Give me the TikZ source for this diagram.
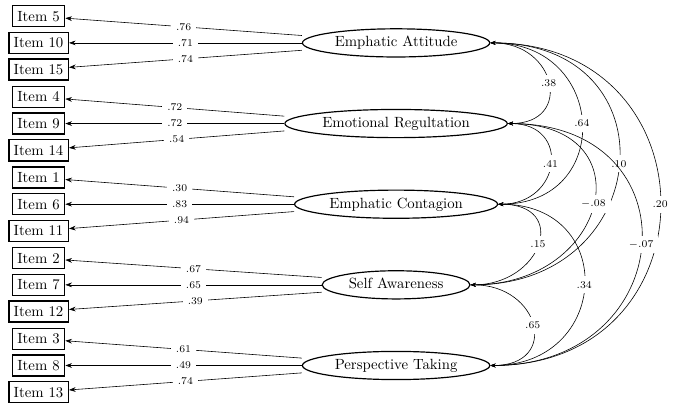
\documentclass[tikz,border=0pt]{standalone}
\usepackage{tikz}
\usetikzlibrary{positioning, arrows.meta, calc}
\usetikzlibrary{shapes.geometric}

\begin{document}
\begin{tikzpicture}[
            node distance=1.22cm,
            >={Stealth[length=4.5pt, width=3.2pt]},
            item/.style = {rectangle, draw=black, line width=1pt, minimum height=0.5cm},
            latent/.style = {ellipse, draw=black, thick, minimum height=0.67cm, inner ysep=0pt, text height=1.6ex, text depth=.4ex},
            load/.style = {->, thin},
            cov/.style = {<->, thin, >={Stealth[length=3.5pt, width=2.6pt]}},
            lab/.style = {font=\scriptsize, fill=white, midway}
        ]

            \useasboundingbox (0,0) rectangle (16.03,-9.775);

            % --- 1. Latent factors ---
            \node [latent] (ea) at (9.42, -1.02) {Emphatic Attitude};
            \node [latent, below=of ea] (er) {Emotional Regultation};
            \node [latent, below=of er] (ec) {Emphatic Contagion};
            \node [latent, below=of ec] (sa) {Self Awareness};
            \node [latent, below=of sa] (pt) {Perspective Taking};

            % --- 2. Items (one column on the left) ---
            \coordinate (col) at (0.916, 0);

            \node [item] (i10) at (ea -| col) {Item 10};
            \node [item, above=0.1cm of i10] (i5) {Item 5};
            \node [item, below=0.1cm of i10] (i15) {Item 15};

            \node [item] (i9) at (er -| col) {Item 9};
            \node [item, above=0.1cm of i9] (i4) {Item 4};
            \node [item, below=0.1cm of i9] (i14) {Item 14};

            \node [item] (i6) at (ec -| col) {Item 6};
            \node [item, above=0.1cm of i6] (i1) {Item 1};
            \node [item, below=0.1cm of i6] (i11) {Item 11};

            \node [item] (i7) at (sa -| col) {Item 7};
            \node [item, above=0.1cm of i7] (i2) {Item 2};
            \node [item, below=0.1cm of i7] (i12) {Item 12};

            \node [item] (i8) at (pt -| col) {Item 8};
            \node [item, above=0.1cm of i8] (i3) {Item 3};
            \node [item, below=0.1cm of i8] (i13) {Item 13};

            % --- 3. Loadings ---
            \draw [load] ([yshift=5pt]ea.west) -- node[lab] {.76} (i5);
            \draw [load] (ea.west) -- node[lab] {.71} (i10);
            \draw [load] ([yshift=-5pt]ea.west) -- node[lab] {.74} (i15);

            \draw [load] ([yshift=5pt]er.west) -- node[lab] {.72} (i4);
            \draw [load] (er.west) -- node[lab] {.72} (i9);
            \draw [load] ([yshift=-5pt]er.west) -- node[lab] {.54} (i14);

            \draw [load] ([yshift=5pt]ec.west) -- node[lab] {.30} (i1);
            \draw [load] (ec.west) -- node[lab] {.83} (i6);
            \draw [load] ([yshift=-5pt]ec.west) -- node[lab] {.94} (i11);

            \draw [load] ([yshift=5pt]sa.west) -- node[lab] {.67} (i2);
            \draw [load] (sa.west) -- node[lab] {.65} (i7);
            \draw [load] ([yshift=-5pt]sa.west) -- node[lab] {.39} (i12);

            \draw [load] ([yshift=5pt]pt.west) -- node[lab] {.61} (i3);
            \draw [load] (pt.west) -- node[lab] {.49} (i8);
            \draw [load] ([yshift=-5pt]pt.west) -- node[lab] {.74} (i13);

            % --- 4. Factor covariances ---
            \draw [cov] (ea.east) to[out=0, in=0, looseness=2.05] node[lab] {.38} (er.east);
            \draw [cov] (ea.east) to[out=0, in=0, looseness=1.85] node[lab] {.64} (ec.east);
            \draw [cov] (ea.east) to[out=0, in=0, looseness=1.95] node[lab] {.10} (sa.east);
            \draw [cov] (ea.east) to[out=0, in=0, looseness=1.8] node[lab] {.20} (pt.east);

            \draw [cov] (er.east) to[out=0, in=0, looseness=2.0] node[lab] {.41} (ec.east);
            \draw [cov] (er.east) to[out=0, in=0, looseness=2.15] node[lab] {$-.08$} (sa.east);
            \draw [cov] (er.east) to[out=0, in=0, looseness=2.0] node[lab] {$-.07$} (pt.east);

            \draw [cov] (ec.east) to[out=0, in=0, looseness=2.15] node[lab] {.15} (sa.east);
            \draw [cov] (ec.east) to[out=0, in=0, looseness=1.9] node[lab] {.34} (pt.east);

            \draw [cov] (sa.east) to[out=0, in=0, looseness=2.15] node[lab] {.65} (pt.east);

        \end{tikzpicture}
\end{document}
